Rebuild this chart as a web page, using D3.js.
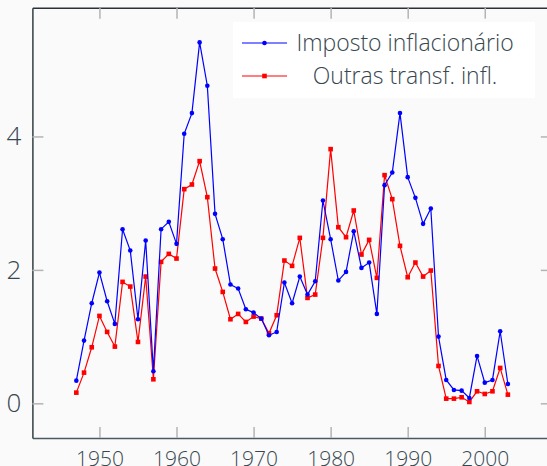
<!DOCTYPE html>
<html>
<head>
<meta charset="utf-8">
<script src="https://cdn.jsdelivr.net/npm/d3@7"></script>
<style>
  html, body { margin: 0; padding: 0; background: #fafafa; }
  svg { display: block; }
  text { font-family: "Open Sans", "Noto Sans", sans-serif; font-weight: 300; fill: #37474f; }
</style>
</head>
<body>
<div id="chart"></div>
<script>
// anos 1947-2003
var years = d3.range(1947, 2004);

var impostoInflacionario = [
  0.34, 0.94, 1.50, 1.96, 1.53, 1.19, 2.61, 2.29, 1.26, 2.44,
  0.48, 2.61, 2.72, 2.39, 4.04, 4.35, 5.41, 4.76, 2.84, 2.46,
  1.78, 1.72, 1.41, 1.36, 1.27, 1.02, 1.07, 1.81, 1.50, 1.90,
  1.63, 1.83, 3.04, 2.46, 1.84, 1.97, 2.58, 2.03, 2.11, 1.34,
  3.27, 3.46, 4.35, 3.39, 3.08, 2.69, 2.92, 1.00, 0.35, 0.20,
  0.19, 0.08, 0.71, 0.31, 0.35, 1.08, 0.29
];

var outrasTransf = [
  0.16, 0.46, 0.84, 1.31, 1.07, 0.85, 1.82, 1.75, 0.92, 1.90,
  0.36, 2.12, 2.24, 2.17, 3.21, 3.28, 3.63, 3.09, 2.02, 1.67,
  1.26, 1.34, 1.22, 1.30, 1.27, 1.05, 1.32, 2.14, 2.06, 2.48,
  1.58, 1.63, 2.48, 3.81, 2.64, 2.49, 2.89, 2.23, 2.45, 1.88,
  3.42, 3.06, 2.36, 1.89, 2.11, 1.90, 1.99, 0.56, 0.07, 0.07,
  0.09, 0.02, 0.18, 0.14, 0.18, 0.53, 0.13
];

var xTicks = [1950, 1960, 1970, 1980, 1990, 2000];
var yTicks = [0, 2, 4];
var seriesNames = ["Imposto inflacionário", "Outras transf. infl."];

(function() {
  var width = 547, height = 466;
  var mLeft = 32.4, mRight = 551.8, mTop = 7.7, mBottom = 438;

  var svg = d3.select("#chart").append("svg")
    .attr("width", width)
    .attr("height", height);

  var x = d3.scaleLinear().domain([1941.3, 2008.7]).range([mLeft, mRight]);
  var y = d3.scaleLinear().domain([-0.52, 5.93]).range([mBottom, mTop]);

  function styleAxis(g, spine) {
    g.select(".domain").attr("stroke", spine).attr("stroke-width", 1.4).attr("fill", "none");
    g.selectAll(".tick line").attr("stroke", "#b4b4b4").attr("stroke-width", 1.5);
    g.selectAll(".tick text").attr("fill", "#37474f").attr("font-family", null);
  }

  // eixos (ticks para dentro)
  svg.append("g")
    .attr("transform", "translate(0," + mBottom + ")")
    .call(d3.axisBottom(x).tickValues(xTicks).tickFormat(d3.format("d"))
      .tickSize(-11).tickSizeOuter(0).tickPadding(13))
    .call(styleAxis, "#4a5a60")
    .call(function(g) { g.selectAll("text").attr("font-size", 21); });

  svg.append("g")
    .attr("transform", "translate(0," + mTop + ")")
    .call(d3.axisTop(x).tickValues(xTicks).tickFormat("")
      .tickSize(-11).tickSizeOuter(0))
    .call(styleAxis, "#263238");

  svg.append("g")
    .attr("transform", "translate(" + mLeft + ",0)")
    .call(d3.axisLeft(y).tickValues(yTicks).tickFormat(d3.format("d"))
      .tickSize(-11).tickSizeOuter(0).tickPadding(11))
    .call(styleAxis, "#263238")
    .call(function(g) { g.selectAll("text").attr("font-size", 26); });

  svg.append("g")
    .attr("transform", "translate(" + mRight + ",0)")
    .call(d3.axisRight(y).tickValues(yTicks).tickFormat("")
      .tickSize(-11).tickSizeOuter(0))
    .call(styleAxis, "#263238");

  // series
  var series = [
    { name: seriesNames[0], values: impostoInflacionario, color: "#0000ff", marker: "circle" },
    { name: seriesNames[1], values: outrasTransf, color: "#ff0000", marker: "square" }
  ];

  var line = d3.line()
    .x(function(d, i) { return x(years[i]); })
    .y(function(d) { return y(d); });

  series.slice().reverse().forEach(function(s) {
    var g = svg.append("g");
    g.append("path")
      .datum(s.values)
      .attr("fill", "none")
      .attr("stroke", s.color)
      .attr("stroke-width", 1.2)
      .attr("d", line);

    if (s.marker === "circle") {
      g.selectAll("circle").data(s.values).enter().append("circle")
        .attr("cx", function(d, i) { return x(years[i]); })
        .attr("cy", function(d) { return y(d); })
        .attr("r", 2.3)
        .attr("fill", s.color);
    } else {
      g.selectAll("rect").data(s.values).enter().append("rect")
        .attr("x", function(d, i) { return x(years[i]) - 2.3; })
        .attr("y", function(d) { return y(d) - 2.3; })
        .attr("width", 4.6)
        .attr("height", 4.6)
        .attr("fill", s.color);
    }
  });

  // legenda
  var legend = svg.append("g").attr("transform", "translate(233,22)");
  legend.append("rect")
    .attr("width", 302).attr("height", 76)
    .attr("fill", "#ffffff");

  series.forEach(function(s, i) {
    var ly = 21 + i * 33;
    legend.append("line")
      .attr("x1", 9).attr("x2", 54)
      .attr("y1", ly).attr("y2", ly)
      .attr("stroke", s.color).attr("stroke-width", 1.2);
    if (s.marker === "circle") {
      legend.append("circle").attr("cx", 31.5).attr("cy", ly).attr("r", 2.3).attr("fill", s.color);
    } else {
      legend.append("rect").attr("x", 29.2).attr("y", ly - 2.3)
        .attr("width", 4.6).attr("height", 4.6).attr("fill", s.color);
    }
    legend.append("text")
      .attr("x", 172)
      .attr("y", ly)
      .attr("dy", "0.35em")
      .attr("text-anchor", "middle")
      .attr("font-size", 23)
      .text(s.name);
  });
})();
</script>
</body>
</html>
